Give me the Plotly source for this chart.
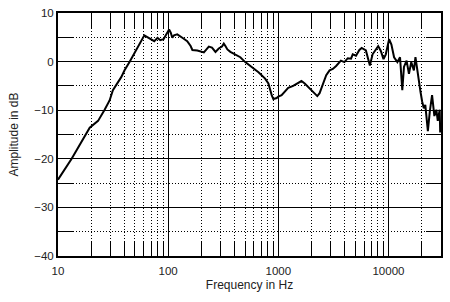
import plotly.graph_objects as go
import numpy as np

freq = [10, 13.3, 19.4, 23.1, 26.5, 29.4, 31.5, 37.5, 40.2, 44.6, 60.8, 63, 69.8, 74.8, 80.1,
        84.8, 90.8, 95.4, 102, 105.8, 109, 113, 121, 134.5, 149, 160, 166, 184, 190, 204,
        211, 234, 250, 269, 288, 308, 320, 331, 345, 367, 407, 452, 501, 575, 661, 759,
        813, 871, 902, 967, 1000, 1072, 1230, 1365, 1514, 1622, 1738, 1928, 2138, 2259,
        2371, 2541, 2723, 2922, 3126, 3350, 3593, 3700, 3981, 4274, 4573, 4742, 5074,
        5445, 5717, 6240, 6785, 7177, 7690, 8070, 8530, 9020, 9460, 10140, 10640, 11250,
        12050, 12740, 13360, 13830, 14610, 15350, 16100, 17020, 17590, 18230, 18870,
        19540, 20230, 20940, 21600, 22800, 23770, 24890, 26120, 27230, 28040, 29200, 29500]
amp_db = [-24.3, -20.0, -13.6, -12.2, -9.9, -8.0, -5.9, -3.2, -1.8, -0.1, 5.4, 5.2, 4.7, 4.2, 4.9,
          4.4, 4.6, 5.6, 6.6, 5.9, 4.9, 5.4, 5.6, 4.9, 4.2, 3.2, 2.4, 2.3, 2.2, 1.9,
          1.9, 3.1, 2.9, 2.0, 2.7, 3.1, 3.7, 3.2, 2.5, 2.0, 1.5, 0.9, -0.1, -1.1, -2.2, -3.5,
          -4.5, -6.9, -7.7, -7.5, -7.2, -6.9, -5.4, -5.0, -4.3, -4.0, -4.5, -5.5, -6.5, -7.1,
          -6.5, -4.5, -2.8, -1.8, -1.5, -0.9, -0.1, 0.2, -0.1, 0.7, 0.6, 1.5, 1.2,
          2.4, 2.8, 2.3, -0.8, 1.5, 2.5, 3.2, 2.2, 0.5, 1.5, 4.6, 3.5, 0.9,
          -0.1, 0.9, -5.9, -1.1, 0.2, -2.5, -0.1, -1.8, 0.9, -1.8, -3.8,
          -6.2, -8.2, -9.6, -8.9, -14.3, -10.2, -6.9, -11.2, -9.9, -12.2, -9.9, -14.6]

x_major = [10, 100, 1000, 10000]
x_labels = ["10", "100", "1000", "10000"]
x_minor = [m * d for d in [10, 100, 1000, 10000] for m in range(2, 10) if m * d <= 30000]
y_major = [10, 0, -10, -20, -30, -40]
y_minor = [5, -5, -15, -25, -35]

font = "Liberation Sans, Arial, sans-serif"

fig = go.Figure()
fig.add_trace(go.Scatter(x=freq, y=amp_db, mode="lines",
                         line=dict(color="black", width=2), showlegend=False))

fig.update_layout(
    width=450, height=302,
    margin=dict(l=58, r=7, t=8, b=46),
    paper_bgcolor="white", plot_bgcolor="white",
    font=dict(family=font, size=11.5, color="#222"),
)
fig.update_xaxes(
    type="log", range=[1, np.log10(30000)],
    tickmode="array", tickvals=x_major, ticktext=x_labels,
    ticklabelstandoff=3,
    showgrid=True, gridcolor="black", gridwidth=1,
    showline=True, linecolor="black", linewidth=2, mirror="all",
    ticks="", zeroline=False,
    minor=dict(tickvals=x_minor, ticks="inside", ticklen=15, tickcolor="black",
               tickwidth=1, showgrid=True, gridcolor="black", gridwidth=1,
               griddash="1px,2px"),
    title=dict(text="Frequency in Hz", font=dict(size=12, family=font), standoff=5),
)
fig.update_yaxes(
    range=[-40, 10], tickmode="array", tickvals=y_major,
    showgrid=True, gridcolor="black", gridwidth=1,
    showline=True, linecolor="black", linewidth=2, mirror="all",
    ticks="", zeroline=False,
    minor=dict(tickvals=y_minor, ticks="inside", ticklen=15,
               tickcolor="black", tickwidth=1, showgrid=True, gridcolor="black",
               gridwidth=1, griddash="1px,2px"),
    title=dict(text="Amplitude in dB", font=dict(size=12, family=font), standoff=13),
)

fig.write_html("out.html")
